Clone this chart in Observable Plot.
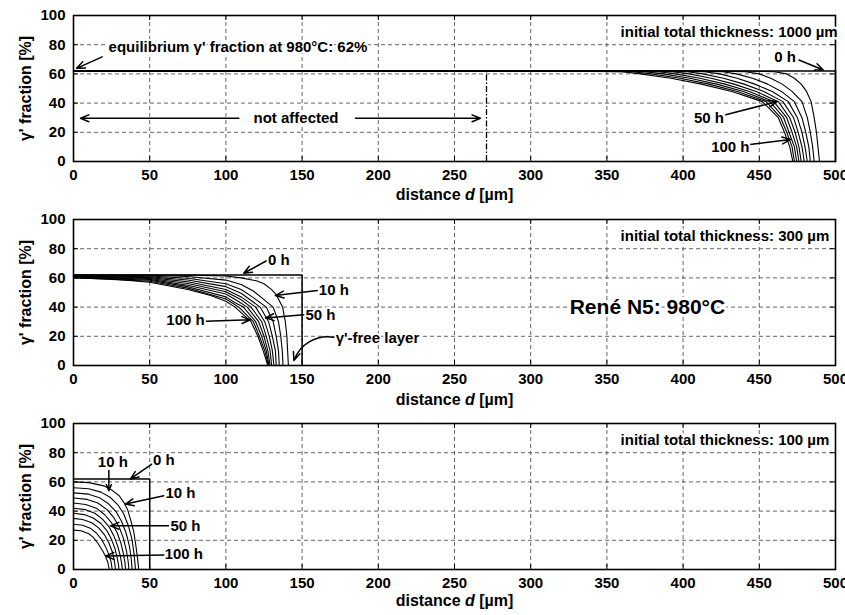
<!DOCTYPE html>
<html><head><meta charset="utf-8">
<script src="https://cdn.jsdelivr.net/npm/d3@7"></script>
<script src="https://cdn.jsdelivr.net/npm/@observablehq/plot@0.6"></script>
<style>
body{margin:0;background:#fff}
#chart svg{display:block}
</style>
</head><body><div id="chart"></div>
<script>
// ---------- data ----------
const hours = [10, 20, 30, 40, 50, 60, 70, 80, 90, 100];
const xTicks = [0, 50, 100, 150, 200, 250, 300, 350, 400, 450, 500];
const yTicks = [0, 20, 40, 60, 80, 100];
const yLabel = "γ' fraction [%]";
const xLabel = "distance d [µm]";
const equilibrium = 62;
const halfThickness = [500, 150, 50];
const thicknessText = ["initial total thickness: 1000 µm", "initial total thickness: 300 µm", "initial total thickness: 100 µm"];

// Panel 1 (1000 µm): distance at fixed γ' levels, one list per exposure time
const p1Levels = [62, 61.5, 60, 57, 53, 48, 41, 30, 20, 10, 0];
const p1Dist = [
  [440, 460, 468, 473, 477.5, 481, 484, 486, 487.5, 488.5, 489.5],
  [413, 441, 450, 457.5, 465, 471.5, 478, 481.5, 483.5, 485, 486],
  [393, 426, 435, 445.5, 455.5, 464.5, 473, 478, 480.5, 482.5, 483.5],
  [375, 414, 424, 435.5, 447, 458.5, 469, 475, 478, 480, 481.5],
  [360, 403, 413, 426.5, 440, 453, 465.5, 472.5, 475.5, 478, 479.5],
  [346, 393, 404, 418.5, 433.5, 448, 462.5, 470, 473.5, 476, 477.5],
  [333, 384, 395, 411, 427.5, 443.5, 459.5, 468, 471.5, 474.5, 476],
  [321, 375, 387, 404.5, 422, 439.5, 457, 466, 469.5, 473, 474.5],
  [310, 367, 379, 398, 417, 435.5, 454.5, 464, 468, 471.5, 473],
  [300, 360, 372, 392, 412, 432, 452, 462.5, 466.5, 470, 472]
];
const p1Boundary = 271;

// Panel 2 (300 µm): [distance, fraction] points per exposure time
const p2Curves = [
  [[0,62],[50,62],[75,61.9],[100,61.3],[110,60],[120,58],[125,56],[130,52],[133,48.5],[137.2,40],[139,30],[140,20],[140.5,10],[141,0]],
  [[0,61.9],[50,61.8],[75,61],[100,58.5],[110,55.5],[118,51],[124,46],[131,40],[134.5,30],[136,20],[137,10],[137.5,0]],
  [[0,61.7],[50,61.3],[75,59.8],[100,56],[110,52],[118,46.5],[126.5,40],[131,30],[133,20],[134.5,10],[135,0]],
  [[0,61.5],[50,60.8],[75,58.6],[100,54],[110,49.5],[122.5,40],[128,30],[130.5,20],[132.5,10],[133,0]],
  [[0,61.2],[50,60.2],[75,57.4],[100,52],[110,47],[119.5,40],[125.5,30],[128.5,20],[130.5,10],[131.5,0]],
  [[0,61],[50,59.6],[75,56.2],[100,50.5],[110,45],[116.5,40],[123.5,30],[126.5,20],[129,10],[130,0]],
  [[0,60.8],[50,59],[75,55],[100,49],[108,44],[114,40],[121.5,30],[125,20],[127.5,10],[129,0]],
  [[0,60.5],[50,58.4],[75,54],[100,47],[106,43],[111.5,40],[119.5,30],[123.5,20],[126.5,10],[128.3,0]],
  [[0,60.2],[50,57.7],[75,53],[100,45.5],[108.5,40],[118,30],[122,20],[125.5,10],[128,0]],
  [[0,60],[25,59.3],[50,57],[75,52],[90,48],[100,44],[106,40],[116.5,30],[121,20],[124.5,10],[127.5,0]]
];

// Panel 3 (100 µm)
const p3Curves = [
  [[0,60],[10,59.5],[20,57.3],[25,54.5],[30,50.5],[33,46],[35.5,41],[37.5,34],[39.5,26],[40.7,18],[42,8],[42.8,0]],
  [[0,56],[10,55.3],[18,53],[24,49.5],[29,44.5],[33,38],[36,30],[38.3,21],[39.7,11],[40.7,0]],
  [[0,52.5],[10,51.6],[17,49.2],[23,45],[28,39.5],[31.5,33],[34.5,25],[36.7,16],[37.8,8],[38.5,0]],
  [[0,49],[9,48],[16,45.5],[22,41],[26.5,35.5],[30,29],[32.7,21.5],[34.7,13],[35.8,6],[36.4,0]],
  [[0,45.5],[8,44.5],[15,42],[20.5,37.5],[25,32],[28.5,25.5],[31,18.5],[32.8,10.5],[33.8,4.5],[34.2,0]],
  [[0,42],[8,41],[14,38.5],[19,34.5],[23.5,29],[26.5,23],[29,16],[30.8,9],[31.7,3.5],[32,0]],
  [[0,38.5],[7,37.6],[13,35.3],[18,31.5],[22,26.5],[25,20.5],[27.3,14],[28.8,7.5],[29.6,2.5],[29.8,0]],
  [[0,35],[6,34.3],[12,32],[16.5,28.5],[20.5,23.5],[23.3,18],[25.5,12],[26.8,6],[27.6,0]],
  [[0,31],[6,30.3],[11,28.3],[15,25],[18.5,20.5],[21.3,15],[23.3,10],[24.7,5],[25.4,0]],
  [[0,27],[5,26.5],[10,24.5],[13,22],[16,18],[19,13],[21,9],[22.5,5],[23.5,0]]
];

// Annotations: straight arrows [x1, y1, x2, y2], curved arrows, labels
const p1Arrows = [
  [18.8, 71.7, 2, 63.8],
  [108.5, 29.6, 4.6, 29.6],
  [185, 29.6, 267, 29.6],
  [476, 69.5, 492, 62.7],
  [428, 32, 461.7, 41.1],
  [444, 11.7, 470.5, 15.1]
];
const p1Labels = [
  {x: 23, y: 78.3, text: "equilibrium γ' fraction at 980°C: 62%", anchor: "start"},
  {x: 146, y: 30, text: "not affected", anchor: "middle"},
  {x: 467, y: 71.7, text: "0 h", anchor: "middle"},
  {x: 417, y: 30, text: "50 h", anchor: "middle"},
  {x: 431, y: 9.5, text: "100 h", anchor: "middle"}
];
const p2Arrows = [
  [127, 71.9, 111.7, 63.2],
  [160, 51.4, 132.5, 47.9],
  [153, 35, 126, 32.6],
  [86.6, 30.3, 116, 31.3]
];
const p2CurvedArrows = [[170.8, 19.4, 144.6, 3.4]];
const p2Labels = [
  {x: 134.7, y: 72.4, text: "0 h", anchor: "middle"},
  {x: 170.8, y: 51.8, text: "10 h", anchor: "middle"},
  {x: 162, y: 34.2, text: "50 h", anchor: "middle"},
  {x: 73.5, y: 31.3, text: "100 h", anchor: "middle"},
  {x: 172, y: 19, text: "γ'-free layer", anchor: "start"}
];
const p2Title = {x: 376.6, y: 39.7, text: "René N5: 980°C"};
const p3Arrows = [
  [23.2, 67.8, 23.2, 54],
  [51.6, 72.4, 37.4, 62],
  [59.3, 50.5, 34.1, 44.8],
  [62.5, 29.9, 24.3, 29.9],
  [59.3, 9.9, 21, 9.2]
];
const p3Labels = [
  {x: 25.8, y: 73.5, text: "10 h", anchor: "middle"},
  {x: 59.3, y: 74.7, text: "0 h", anchor: "middle"},
  {x: 70.2, y: 52.1, text: "10 h", anchor: "middle"},
  {x: 73.5, y: 29.9, text: "50 h", anchor: "middle"},
  {x: 72.4, y: 10.3, text: "100 h", anchor: "middle"}
];
const thicknessPos = {x: 359, y: 88.5};

// ---------- build rows ----------
const p1Rows = p1Dist.flatMap((ds, i) => [{h: hours[i], dist: 0, frac: equilibrium},
  ...ds.map((d, j) => ({h: hours[i], dist: d, frac: p1Levels[j]}))]);
const pairRows = curves => curves.flatMap((pts, i) => pts.map(([d, v]) => ({h: hours[i], dist: d, frac: v})));
const panels = [
  {rows: p1Rows, arrows: p1Arrows, curved: [], labels: p1Labels, labelDy: 38},
  {rows: pairRows(p2Curves), arrows: p2Arrows, curved: p2CurvedArrows, labels: p2Labels, labelDy: 39},
  {rows: pairRows(p3Curves), arrows: p3Arrows, curved: [], labels: p3Labels, labelDy: 36}
];

const W = 845, H = 204, mt = 15, mb = 43, ml = 73, mr = 10;
const plotW = W - ml - mr, plotH = H - mt - mb;
const font = "'Liberation Sans', Arial, Helvetica, sans-serif";
const gridStyle = {stroke: "#555", strokeOpacity: 1, strokeWidth: 0.9, strokeDasharray: "4,3"};
const arrowStyle = {x1: d => d[0], y1: d => d[1], x2: d => d[2], y2: d => d[3], stroke: "black", strokeWidth: 1.5, headLength: 9, headAngle: 45};

panels.forEach((p, k) => {
  const initial = [[0, equilibrium], [halfThickness[k], equilibrium], [halfThickness[k], 0]];
  const startLabels = p.labels.filter(d => d.anchor === "start");
  const midLabels = p.labels.filter(d => d.anchor !== "start");
  const labelStyle = {x: "x", y: "y", text: "text", fontSize: 15, stroke: "white", strokeWidth: 4, fill: "black"};
  const marks = [
    Plot.gridX(xTicks, gridStyle),
    Plot.gridY(yTicks, gridStyle),
    Plot.tickX(xTicks, {x: d => d, insetTop: plotH - 5, stroke: "black"}),
    Plot.tickX(xTicks, {x: d => d, insetBottom: plotH - 5, stroke: "black"}),
    Plot.tickY(yTicks, {y: d => d, insetRight: plotW - 5, stroke: "black"}),
    Plot.tickY(yTicks, {y: d => d, insetLeft: plotW - 5, stroke: "black"}),
    Plot.axisX(xTicks, {tickSize: 0, tickPadding: 8, label: null, fontSize: 15}),
    Plot.axisY(yTicks, {tickSize: 0, tickPadding: 8, label: null, fontSize: 15}),
    Plot.text([yLabel], {frameAnchor: "left", textAnchor: "middle", dx: -48, rotate: -90, fontSize: 16}),
    Plot.text([xLabel], {frameAnchor: "bottom", dy: p.labelDy, fontSize: 16}),
    Plot.line(p.rows, {x: "dist", y: "frac", z: "h", stroke: "black", strokeWidth: 1.1}),
    Plot.line(initial, {x: d => d[0], y: d => d[1], stroke: "black", strokeWidth: 1.5}),
    Plot.frame({stroke: "black", strokeWidth: 1.6}),
    Plot.text([thicknessText[k]], {x: thicknessPos.x, y: thicknessPos.y, textAnchor: "start", fontSize: 15, stroke: "white", strokeWidth: 5, fill: "black"}),
    Plot.arrow(p.arrows, arrowStyle),
    Plot.text(midLabels, labelStyle),
    Plot.text(startLabels, {...labelStyle, textAnchor: "start"})
  ];
  if (p.curved.length) marks.push(Plot.arrow(p.curved, {...arrowStyle, bend: -40}));
  if (k === 0) {
    marks.push(Plot.ruleX([p1Boundary], {y1: 0, y2: equilibrium, stroke: "black", strokeWidth: 1.3, strokeDasharray: "6,2,1.5,2"}));
  }
  if (k === 1) {
    marks.push(Plot.text([p2Title], {x: "x", y: "y", text: "text", fontSize: 21, stroke: "white", strokeWidth: 6, fill: "black"}));
  }
  const svg = Plot.plot({
    width: W, height: H, marginTop: mt, marginBottom: mb, marginLeft: ml, marginRight: mr,
    x: {domain: [0, 500], label: null},
    y: {domain: [0, 100], label: null},
    style: {fontFamily: font, fontSize: "15px", fontWeight: "bold", color: "black", background: "white", overflow: "visible"},
    marks
  });
  svg.querySelectorAll("text").forEach(t => {
    if (t.textContent === xLabel) {
      t.textContent = "";
      const parts = [["distance ", null], ["d", "italic"], [" [µm]", null]];
      parts.forEach(([s, st]) => {
        const ts = document.createElementNS("http://www.w3.org/2000/svg", "tspan");
        ts.textContent = s;
        if (st) ts.setAttribute("font-style", st);
        t.appendChild(ts);
      });
    }
  });
  document.getElementById("chart").appendChild(svg);
});
</script>
</body></html>
